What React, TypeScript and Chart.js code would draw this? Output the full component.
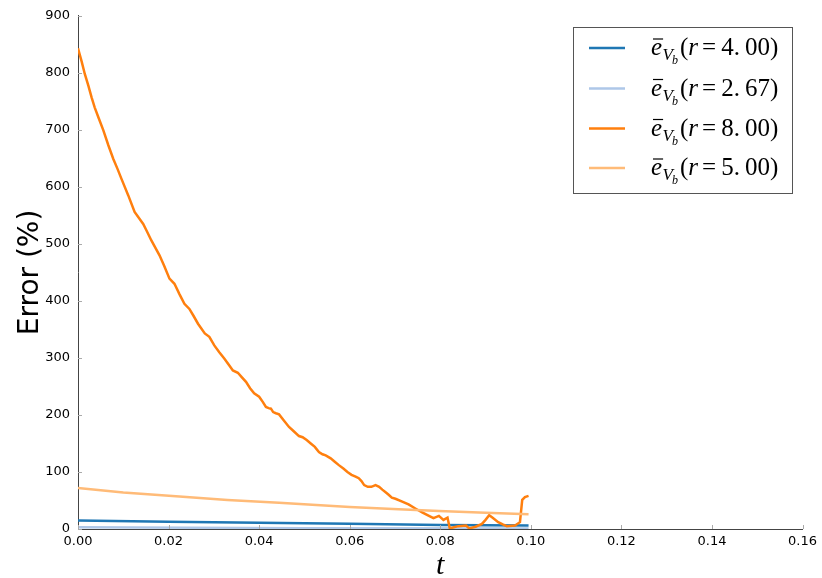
import React, { useEffect, useRef } from "react";
import { Chart, registerables } from "chart.js";

Chart.register(...registerables);

// ---- data ----
const seriesLabels = ["4.00", "2.67", "8.00", "5.00"];
const seriesColors = ["#1f77b4", "#aec7e8", "#ff7f0e", "#ffbb78"];

const tBlue = [0, 0.02, 0.04, 0.06, 0.08, 0.0995];
const vBlue = [15, 12.8, 11, 9, 7, 6];

const tLightBlue = [0, 0.05, 0.0995];
const vLightBlue = [3, 1.5, 1];

const tOrange = [
  0, 0.0008, 0.0015, 0.0023, 0.003, 0.0037, 0.0046, 0.0056, 0.0067, 0.0078,
  0.0087, 0.0096, 0.0111, 0.0125, 0.0144, 0.0151, 0.0162, 0.018, 0.019, 0.0202,
  0.0213, 0.0224, 0.0235, 0.0246, 0.0255, 0.0265, 0.028, 0.029, 0.0301, 0.0312,
  0.0323, 0.0333, 0.0342, 0.0353, 0.0362, 0.0371, 0.038, 0.0389, 0.04, 0.0408,
  0.0415, 0.0421, 0.0426, 0.0431, 0.0437, 0.0444, 0.0455, 0.0466, 0.0477, 0.0488,
  0.0496, 0.0505, 0.0514, 0.0523, 0.0532, 0.054, 0.0547, 0.0558, 0.0567, 0.0576,
  0.0586, 0.0595, 0.0604, 0.0613, 0.062, 0.0626, 0.0632, 0.064, 0.0648, 0.0657,
  0.0665, 0.0672, 0.068, 0.0686, 0.0693, 0.0701, 0.0716, 0.073, 0.0745, 0.076,
  0.0775, 0.0785, 0.0797, 0.0807, 0.0816, 0.0821, 0.083, 0.084, 0.0857, 0.0864,
  0.0878, 0.0892, 0.09, 0.0908, 0.0915, 0.0928, 0.0938, 0.0947, 0.0965, 0.0976,
  0.0981, 0.0987, 0.0995,
];
const vOrange = [
  843, 820, 798, 777, 757, 739, 720, 699, 673, 649,
  632, 614, 585, 556, 535, 524, 506, 480, 462, 439,
  430, 412, 395, 386, 374, 360, 343, 337, 322, 310,
  299, 288, 278, 274, 266, 258, 247, 238, 232, 223,
  214, 212, 211, 205, 203, 201, 190, 179, 171, 163,
  161, 156, 150, 144, 135, 131, 129, 124, 118, 112,
  106, 100, 95, 92, 89, 84, 77, 74, 74, 77,
  74, 69, 64, 60, 55, 53, 48, 43, 36, 29,
  23, 19, 23, 16, 20, 1, 3, 5, 6, 1,
  4, 9, 16, 24, 20, 12, 8, 5, 6, 12,
  51, 56, 58,
];

const tLightOrange = [0, 0.01, 0.0224, 0.033, 0.0444, 0.06, 0.0708, 0.0797, 0.09, 0.0995];
const vLightOrange = [72, 64, 57, 51, 46, 38.5, 34.5, 31.5, 28.5, 26];

const xTickMax = 0.16;
const xTickStep = 0.02;
const yTickMax = 900;
const yTickStep = 100;

const xTitle = "t";
const yTitle = "Error (%)";

function pts(t: number[], v: number[]) {
  return t.map((x, i) => ({ x, y: v[i] }));
}

const overlayPlugin = {
  id: "overlay",
  afterDraw(chart: any) {
    const ctx = chart.ctx as CanvasRenderingContext2D;
    const area = chart.chartArea;
    const xs = chart.scales.x;
    const ys = chart.scales.y;
    ctx.save();
    // inward ticks
    ctx.strokeStyle = "#aaaaaa";
    ctx.lineWidth = 1;
    ys.ticks.forEach((tk: any) => {
      const y = Math.round(ys.getPixelForValue(tk.value)) + 0.5;
      ctx.beginPath();
      ctx.moveTo(area.left, y);
      ctx.lineTo(area.left + 4, y);
      ctx.stroke();
    });
    xs.ticks.forEach((tk: any) => {
      const x = Math.round(xs.getPixelForValue(tk.value)) + 0.5;
      ctx.beginPath();
      ctx.moveTo(x, area.bottom);
      ctx.lineTo(x, area.bottom - 4);
      ctx.stroke();
    });

    // axis titles
    ctx.fillStyle = "#000";
    ctx.font = '28px "DejaVu Sans"';
    ctx.textAlign = "center";
    ctx.textBaseline = "middle";
    ctx.save();
    ctx.translate(31, (area.top + area.bottom) / 2);
    ctx.rotate(-Math.PI / 2);
    ctx.fillText(yTitle, 0, 0);
    ctx.restore();
    ctx.font = 'italic 30px "Liberation Serif"';
    ctx.textBaseline = "alphabetic";
    ctx.fillText(xTitle, (area.left + area.right) / 2, 574);

    // legend
    const bx = 573.5, by = 27.5, bw = 219, bh = 166;
    ctx.fillStyle = "#fff";
    ctx.fillRect(bx, by, bw, bh);
    ctx.strokeStyle = "#555";
    ctx.lineWidth = 1;
    ctx.strokeRect(bx, by, bw, bh);
    const rowY = [48, 88.5, 128.5, 168];
    ctx.textAlign = "left";
    ctx.textBaseline = "alphabetic";
    seriesLabels.forEach((lab, i) => {
      const y = rowY[i];
      ctx.strokeStyle = seriesColors[i];
      ctx.lineWidth = 2.5;
      ctx.beginPath();
      ctx.moveTo(589, y);
      ctx.lineTo(625, y);
      ctx.stroke();

      ctx.fillStyle = "#000";
      let x = 651;
      const base = y + 7;
      ctx.font = 'italic 25px "Liberation Serif"';
      ctx.fillText("e", x, base);
      const we = ctx.measureText("e").width;
      // bar
      ctx.strokeStyle = "#000";
      ctx.lineWidth = 1.2;
      ctx.beginPath();
      ctx.moveTo(x + 2, base - 16);
      ctx.lineTo(x + we + 1, base - 16);
      ctx.stroke();
      x += we + 0.5;
      ctx.font = 'italic 17px "Liberation Serif"';
      ctx.fillText("V", x, base + 5);
      x += ctx.measureText("V").width - 1;
      ctx.font = 'italic 12px "Liberation Serif"';
      ctx.fillText("b", x, base + 9);
      x += ctx.measureText("b").width + 2;
      ctx.font = '25px "Liberation Serif"';
      ctx.fillText("(", x, base);
      x += ctx.measureText("(").width;
      ctx.font = 'italic 25px "Liberation Serif"';
      ctx.fillText("r", x, base);
      x += ctx.measureText("r").width + 4;
      ctx.font = '25px "Liberation Serif"';
      ctx.fillText("=", x, base);
      x += ctx.measureText("=").width + 5;
      const [a, b] = lab.split(".");
      ctx.fillText(a + ".", x, base);
      x += ctx.measureText(a + ".").width + 5;
      ctx.fillText(b, x, base);
      x += ctx.measureText(b).width;
      ctx.fillText(")", x, base);
    });
    ctx.restore();
  },
};

export default function App() {
  const ref = useRef<HTMLCanvasElement | null>(null);
  useEffect(() => {
    if (!ref.current) return;
    const chart = new Chart(ref.current, {
      type: "line",
      data: {
        datasets: [
          { label: seriesLabels[0], data: pts(tBlue, vBlue), borderColor: seriesColors[0], order: 4 },
          { label: seriesLabels[1], data: pts(tLightBlue, vLightBlue), borderColor: seriesColors[1], order: 3 },
          { label: seriesLabels[2], data: pts(tOrange, vOrange), borderColor: seriesColors[2], order: 2 },
          { label: seriesLabels[3], data: pts(tLightOrange, vLightOrange), borderColor: seriesColors[3], order: 1 },
        ].map((d) => ({
          ...d,
          borderWidth: 2.5,
          pointRadius: 0,
          tension: 0,
          fill: false,
          backgroundColor: d.borderColor,
        })),
      },
      options: {
        animation: false,
        responsive: false,
        layout: { padding: { left: 0, top: 15, right: 17, bottom: 0 } },
        plugins: { legend: { display: false }, tooltip: { enabled: false } },
        scales: {
          x: {
            type: "linear",
            min: 0,
            max: xTickMax,
            grid: { display: true, drawOnChartArea: false, drawTicks: false },
            border: { display: true, color: "#444", width: 1 },
            ticks: {
              stepSize: xTickStep,
              padding: 5,
              color: "#000",
              font: { family: "DejaVu Sans", size: 13 },
              maxRotation: 0,
              callback: (v: any) => Number(v).toFixed(2),
            },
            afterFit: (s: any) => {
              s.height = 49;
            },
          },
          y: {
            type: "linear",
            min: 0,
            max: yTickMax,
            grid: { display: true, drawOnChartArea: false, drawTicks: false },
            border: { display: true, color: "#444", width: 1 },
            ticks: {
              stepSize: yTickStep,
              padding: 8,
              color: "#000",
              font: { family: "DejaVu Sans", size: 13 },
            },
            afterFit: (s: any) => {
              s.width = 78;
            },
          },
        },
      },
      plugins: [overlayPlugin],
    });
    return () => chart.destroy();
  }, []);
  return (
    <div style={{ position: "absolute", left: 0, top: 0, width: 822, height: 578, background: "#fff" }}>
      <canvas ref={ref} width={822} height={578} />
    </div>
  );
}
